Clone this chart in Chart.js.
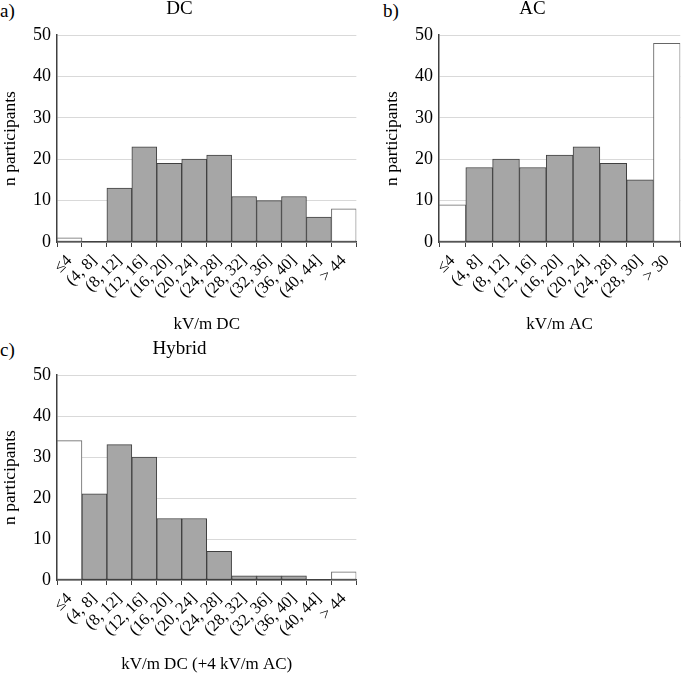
<!doctype html>
<html>
<head>
    <title>Threshold histograms</title>
    <script src="https://cdn.jsdelivr.net/npm/chart.js@4.4.1/dist/chart.umd.min.js"></script>
    <style>
    body { margin: 0; background: #fff; }
    #wrap { position: relative; width: 685px; height: 673px; }
    canvas { position: absolute; }
    .panel {
        position: absolute;
        font-family: 'Liberation Serif', serif;
        font-size: 19px;
        line-height: 19px;
        color: #000;
    }
    </style>
</head>
<body>
<div id="wrap">
    <div class="panel" style="left:0px; top:1px;">a)</div>
    <div class="panel" style="left:383px; top:1px;">b)</div>
    <div class="panel" style="left:0px; top:340px;">c)</div>
    <canvas id="dc" width="362" height="335" style="left:0px; top:0px;"></canvas>
    <canvas id="ac" width="303" height="335" style="left:382px; top:0px;"></canvas>
    <canvas id="hybrid" width="362" height="335" style="left:0px; top:340px;"></canvas>
</div>
<script>
    // values
    var dcLabels = ['≤4', '(4, 8]', '(8, 12]', '(12, 16]', '(16, 20]', '(20, 24]', '(24, 28]', '(28, 32]', '(32, 36]', '(36, 40]', '(40, 44]', '> 44'];
    var dcValues = [1, 0, 13, 23, 19, 20, 21, 11, 10, 11, 6, 8];

    var acLabels = ['≤4', '(4, 8]', '(8, 12]', '(12, 16]', '(16, 20]', '(20, 24]', '(24, 28]', '(28, 30]', '> 30'];
    var acValues = [9, 18, 20, 18, 21, 23, 19, 15, 48];

    var hybridLabels = dcLabels;
    var hybridValues = [34, 21, 33, 30, 15, 15, 7, 1, 1, 1, 0, 2];

    var yMin = 0, yMax = 50, yStep = 5;

    var serif = 'Liberation Serif';
    var dark = '#404040';

    Chart.defaults.font.family = serif;
    Chart.defaults.color = '#000';

    // first and last bins are open-ended -> white
    function isEdge(ctx) {
        return ctx.dataIndex === 0 || ctx.dataIndex === ctx.dataset.data.length - 1;
    }

    function makeChart(id, title, xTitle, labels, values, padRight, xHeight) {
        var ctx = document.getElementById(id).getContext('2d');
        return new Chart(ctx, {
            type: 'bar',
            data: {
                labels: labels,
                datasets: [{
                    data: values,
                    backgroundColor: function(c) { return isEdge(c) ? '#ffffff' : '#a6a6a6'; },
                    borderColor: function(c) { return isEdge(c) ? '#666666' : dark; },
                    borderWidth: 1,
                    borderSkipped: false,
                    barPercentage: 1,
                    categoryPercentage: 1
                }]
            },
            options: {
                responsive: false,
                animation: false,
                layout: { padding: { top: 0, right: padRight, bottom: 0, left: 0 } },
                plugins: {
                    legend: { display: false },
                    tooltip: { enabled: false },
                    title: {
                        display: true,
                        text: title,
                        color: '#000',
                        font: { family: serif, size: 19, weight: 'normal', lineHeight: 1 },
                        padding: { top: 0, bottom: 16 }
                    }
                },
                scales: {
                    x: {
                        afterFit: function(s) { s.height = xHeight; },
                        grid: {
                            display: true,
                            drawOnChartArea: false,
                            drawTicks: true,
                            tickLength: 5,
                            color: dark,
                            offset: true
                        },
                        border: { display: true, color: dark, width: 1.5 },
                        ticks: {
                            autoSkip: false,
                            minRotation: 45,
                            maxRotation: 45,
                            padding: 4,
                            color: '#000',
                            font: { family: serif, size: 16.5 }
                        },
                        title: {
                            display: true,
                            text: xTitle,
                            color: '#000',
                            font: { family: serif, size: 17 },
                            padding: { top: 0, bottom: 0 }
                        }
                    },
                    y: {
                        min: yMin,
                        max: yMax,
                        afterFit: function(s) { s.width = 57; },
                        grid: { color: '#d9d9d9', drawTicks: false, lineWidth: 1 },
                        border: { display: true, color: dark, width: 1.5 },
                        ticks: {
                            stepSize: yStep,
                            padding: 6,
                            color: '#000',
                            font: { family: serif, size: 18 }
                        },
                        title: {
                            display: true,
                            text: 'n participants',
                            color: '#000',
                            font: { family: serif, size: 17.5 },
                            padding: { top: 0, bottom: 0 }
                        }
                    }
                }
            }
        });
    }

    makeChart('dc', 'DC', 'kV/m DC', dcLabels, dcValues, 3, 93);
    makeChart('ac', 'AC', 'kV/m AC', acLabels, acValues, 2, 93);
    makeChart('hybrid', 'Hybrid', 'kV/m DC (+4 kV/m AC)', hybridLabels, hybridValues, 3, 95);
</script>
</body>
</html>
